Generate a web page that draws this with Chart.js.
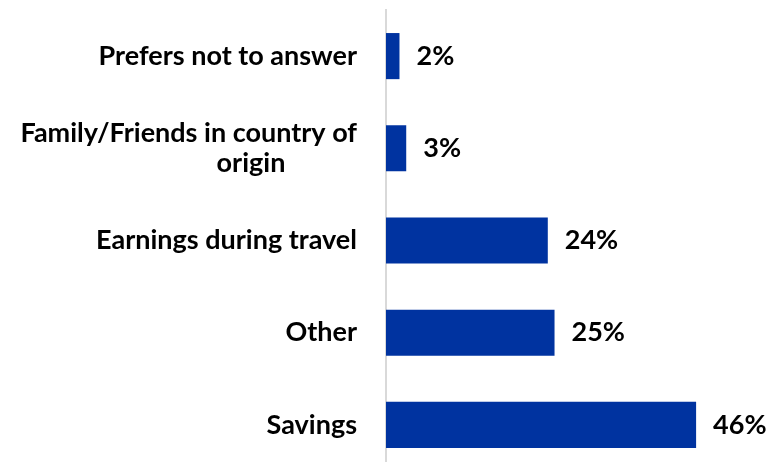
<!DOCTYPE html>
<html>
<head>
<meta charset="utf-8">
<script src="https://cdn.jsdelivr.net/npm/chart.js@4.4.1/dist/chart.umd.min.js"></script>
<style>
  html, body { margin: 0; padding: 0; background: #fff; overflow: hidden; }
  #chart-holder { width: 777px; height: 472px; }
</style>
</head>
<body>
<div id="chart-holder"><canvas id="chart"></canvas></div>
<script>
// funding source categories, top to bottom (wrapped lines as sub-arrays)
const categories = [
  ['Prefers not to answer'],
  ['Family/Friends in country of', 'origin'],
  ['Earnings during travel'],
  ['Other'],
  ['Savings']
];
// share of respondents, percent
const shares = [2, 3, 24, 25, 46];

const labelFont = 'bold 27px Lato';
const barColor = '#0033a0';

// category names: right aligned against the axis, wrapped lines pulled in towards the axis
const categoryText = {
  id: 'categoryText',
  afterDraw(chart) {
    const ctx = chart.ctx;
    const yScale = chart.scales.y;
    const right = yScale.right - 29;
    const lineGap = 30;
    ctx.save();
    ctx.font = labelFont;
    ctx.fillStyle = '#000';
    ctx.textBaseline = 'middle';
    categories.forEach((lines, i) => {
      const cy = yScale.getPixelForTick(i);
      lines.forEach((line, j) => {
        const y = cy + (j - (lines.length - 1) / 2) * lineGap;
        if (j === 0) {
          ctx.textAlign = 'right';
          ctx.fillText(line, right, y);
        } else {
          ctx.textAlign = 'center';
          ctx.fillText(line, right - 106, y);
        }
      });
    });
    ctx.restore();
  }
};

// percent value just past the end of each bar
const valueText = {
  id: 'valueText',
  afterDatasetsDraw(chart) {
    const ctx = chart.ctx;
    const meta = chart.getDatasetMeta(0);
    ctx.save();
    ctx.font = labelFont;
    ctx.fillStyle = '#000';
    ctx.textAlign = 'left';
    ctx.textBaseline = 'middle';
    meta.data.forEach((bar, i) => {
      ctx.fillText(shares[i] + '%', bar.x + 17, bar.y);
    });
    ctx.restore();
  }
};

const drawChart = () => {
  const ctx = document.getElementById('chart').getContext('2d');
  new Chart(ctx, {
    type: 'bar',
    data: {
      labels: categories,
      datasets: [{
        data: shares,
        backgroundColor: barColor,
        borderWidth: 0,
        categoryPercentage: 1,
        barPercentage: 0.5
      }]
    },
    options: {
      indexAxis: 'y',
      responsive: true,
      maintainAspectRatio: false,
      animation: false,
      layout: { padding: { top: 10, bottom: 1, left: 0, right: 0 } },
      plugins: {
        legend: { display: false },
        tooltip: { enabled: false }
      },
      scales: {
        x: {
          display: false,
          min: 0,
          max: 58
        },
        y: {
          grid: { display: false, drawTicks: false },
          border: { display: true, color: '#d9d9d9', width: 2 },
          ticks: { display: false },
          afterFit(scale) { scale.width = 386; }
        }
      }
    },
    plugins: [categoryText, valueText]
  });
};

document.fonts.load(labelFont).then(drawChart, drawChart);
</script>
</body>
</html>
